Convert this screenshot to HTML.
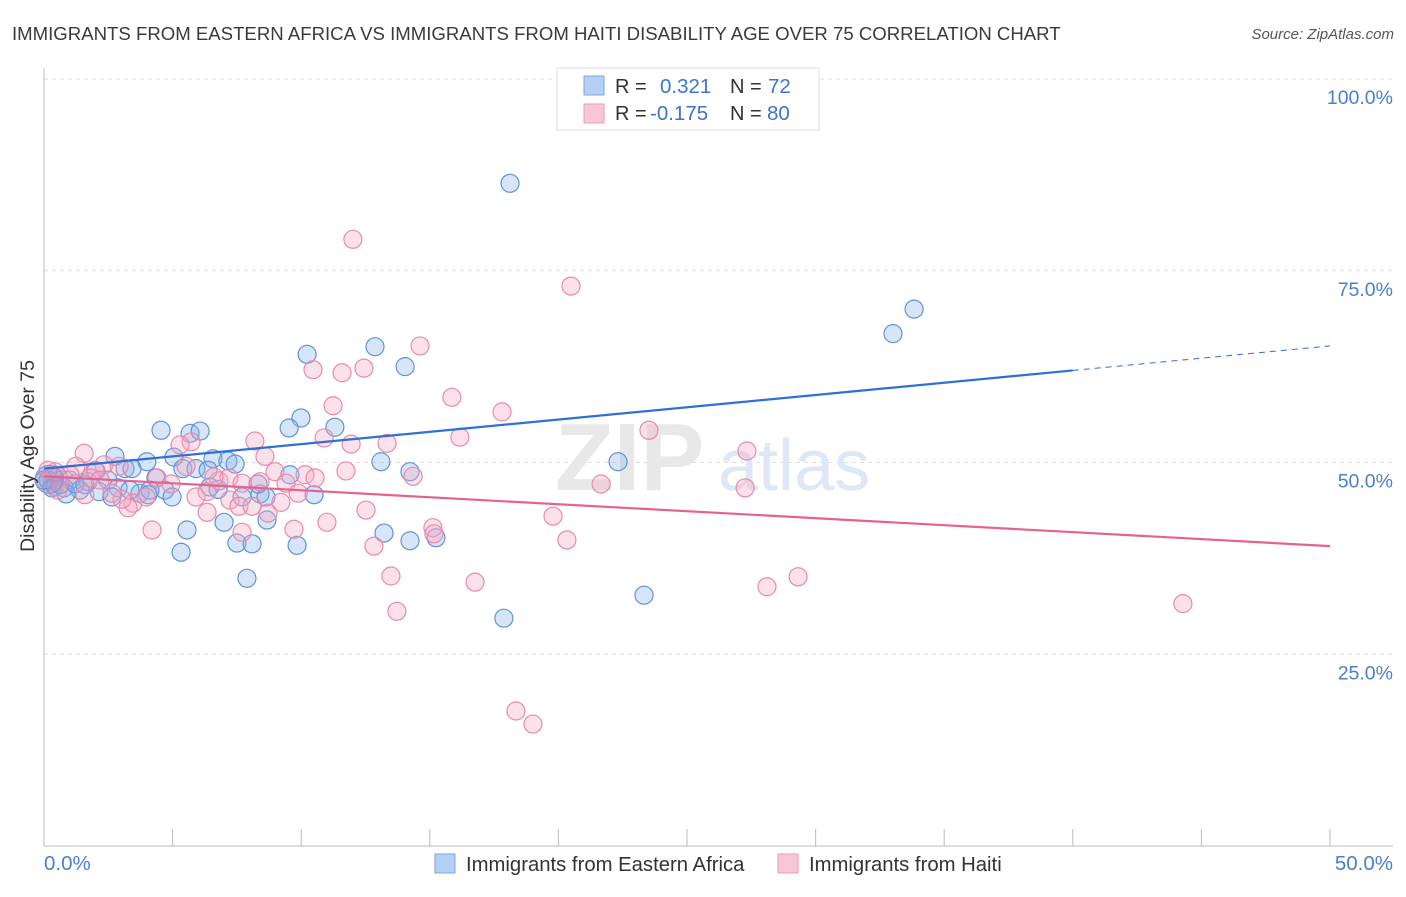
<!DOCTYPE html>
<html><head><meta charset="utf-8"><style>
body{margin:0;background:#fff;font-family:"Liberation Sans",sans-serif;}
svg text{font-family:"Liberation Sans",sans-serif;}
</style></head><body>
<svg width="1406" height="892" viewBox="0 0 1406 892">
<text x="12" y="40" font-size="18.6" fill="#3a3a3a">IMMIGRANTS FROM EASTERN AFRICA VS IMMIGRANTS FROM HAITI DISABILITY AGE OVER 75 CORRELATION CHART</text>
<text x="1394" y="39" font-size="15" fill="#555" font-style="italic" text-anchor="end">Source: ZipAtlas.com</text>
<g id="grid"></g>
<text x="555" y="490" font-size="96" fill="#e8e8e8" font-family="Liberation Serif" font-weight="bold">ZIP</text>
<text x="718" y="490" font-size="72" fill="#dde7f5">atlas</text>
<g id="pts"></g>
<g id="lines"></g>
<text transform="translate(34,456) rotate(-90)" font-size="19.5" fill="#333" text-anchor="middle">Disability Age Over 75</text>
<text x="44" y="870" font-size="20.5" fill="#4a7fd0">0.0%</text>
<text x="1393" y="870" font-size="20.5" fill="#4a7fd0" text-anchor="end">50.0%</text>
<g>
<rect x="557" y="68" width="262" height="62" fill="#fff" stroke="#ddd"/>
<rect x="584" y="76" width="20" height="19" fill="#b5d0f3" stroke="#7aa6e3"/>
<rect x="584" y="104" width="20" height="19" fill="#f9c6d5" stroke="#ee9ab5"/>
<text x="615" y="93" font-size="20" fill="#333">R =</text>
<text x="660" y="93" font-size="20.5" fill="#3d74cc">0.321</text>
<text x="730" y="93" font-size="20" fill="#333">N =</text>
<text x="768" y="93" font-size="20.5" fill="#3d74cc">72</text>
<text x="615" y="120" font-size="20" fill="#333">R =</text>
<text x="650" y="120" font-size="20.5" fill="#3d74cc">-0.175</text>
<text x="730" y="120" font-size="20" fill="#333">N =</text>
<text x="767" y="120" font-size="20.5" fill="#3d74cc">80</text>
</g>
<g>
<rect x="435" y="854" width="20" height="19" fill="#b5d0f3" stroke="#7aa6e3"/>
<text x="466" y="871" font-size="20.3" fill="#333">Immigrants from Eastern Africa</text>
<rect x="778" y="854" width="20" height="19" fill="#f9c6d5" stroke="#ee9ab5"/>
<text x="809" y="871" font-size="20.3" fill="#333">Immigrants from Haiti</text>
</g>
</svg>
<script>
const yTicks=[100,75,50,25];
const yTickLabels=["100.0%","75.0%","50.0%","25.0%"];
const xTicks=[0,5,10,15,20,25,30,35,40,45,50];
const blueX=[18.12,33.83,33.01,10.23,12.87,14.04,9.99,11.31,4.55,5.68,6.07,9.53,22.32,13.10,14.23,2.76,4.00,5.05,6.57,7.15,7.43,5.40,5.91,3.15,3.42,2.02,0.54,1.01,1.71,2.49,4.35,0.43,0.78,1.40,2.14,2.88,3.73,4.70,4.98,6.45,6.77,7.70,8.40,8.63,10.50,0.86,2.64,4.04,8.67,7.00,5.56,5.33,7.50,8.09,9.84,13.22,14.23,15.24,7.89,23.33,17.88,0.16,0.31,0.62,1.21,1.59,0.0,3.34,4.12,6.38,9.56,8.32];
const blueY=[86.4,70.0,66.8,64.1,65.1,62.5,55.8,54.6,54.2,53.8,54.1,54.5,50.1,50.1,48.8,50.8,50.1,50.7,50.5,50.2,49.8,49.2,49.2,49.2,49.2,48.9,48.2,47.7,47.5,47.7,48.0,46.9,46.7,46.4,46.2,46.7,46.0,46.4,45.5,46.8,46.5,45.5,45.9,45.5,45.8,45.9,45.5,45.8,42.5,42.2,41.2,38.3,39.5,39.4,39.2,40.8,39.8,40.2,34.9,32.7,29.7,47.7,46.7,47.1,47.2,47.1,47.7,46.4,46.4,49.0,48.4,47.2];
const pinkX=[12.01,20.49,14.62,10.46,11.59,12.44,15.86,11.24,17.81,23.52,16.17,10.89,11.94,13.34,8.20,8.59,27.33,5.72,5.29,1.56,1.24,2.33,2.92,1.98,8.98,11.74,14.35,4.39,4.94,6.80,7.19,7.70,8.40,9.41,10.15,10.54,21.66,27.26,5.91,6.34,7.23,7.58,8.09,8.71,9.21,9.88,3.46,3.27,3.03,3.97,2.64,0.62,1.01,0.43,0.16,12.52,6.34,4.20,7.70,9.72,11.00,15.12,15.16,19.79,20.33,12.83,13.49,16.76,13.72,28.11,29.32,44.28,18.35,19.01,0.54,1.79,5.52,6.61,1.59,2.18];
const pinkY=[79.1,73.0,65.2,62.1,61.7,62.3,58.5,57.4,56.6,54.2,53.3,53.2,52.4,52.5,52.8,50.8,51.5,52.7,52.3,51.2,49.5,49.7,49.5,49.0,48.8,48.9,48.2,48.0,47.2,47.6,48.0,47.3,47.5,47.3,48.4,48.0,47.2,46.7,45.5,46.2,45.1,44.3,44.3,43.4,44.8,46.0,44.7,44.1,45.2,45.5,46.0,47.7,48.4,48.8,49.0,43.8,43.5,41.2,40.9,41.3,42.2,41.5,40.7,43.0,39.9,39.1,35.2,34.4,30.6,33.8,35.1,31.6,17.6,15.9,46.4,48.0,49.5,48.1,45.8,47.7];
const blueTrend=[49.2,65.2];
const pinkTrend=[48.2,39.1];
const NS="http://www.w3.org/2000/svg";
function sx(v){return 44+v*25.72;}
function sy(v){return 846-v*7.67;}
function mk(tag,attrs,parent){const e=document.createElementNS(NS,tag);for(const k in attrs)e.setAttribute(k,attrs[k]);parent.appendChild(e);return e;}
const grid=document.getElementById('grid');
yTicks.forEach((t,i)=>{
 const l=mk('line',{x1:44,x2:1393,y1:sy(t),y2:sy(t),stroke:'#dedede','stroke-dasharray':'4,4'},grid);
 
 
 const tx=mk('text',{x:1393,y:sy(t)+25,'font-size':19.5,fill:'#4a7fd0','text-anchor':'end'},grid);
 tx.textContent=yTickLabels[i];
 
 
});
const ya=mk('line',{x1:44,x2:44,y1:68,y2:846,stroke:'#bbb'},grid);


const xa=mk('line',{x1:44,x2:1393,y1:846,y2:846,stroke:'#bbb'},grid);


xTicks.forEach(t=>{
 const l=mk('line',{x1:sx(t),x2:sx(t),y1:829,y2:846,stroke:'#bbb'},grid);
 
 
});
const pts=document.getElementById('pts');
blueX.forEach((x,i)=>{
 const c=mk('circle',{cx:sx(x),cy:sy(blueY[i]),r:9,fill:'rgba(140,180,235,0.35)',stroke:'#5f93d8','stroke-width':1.2},pts);
 
 
});
pinkX.forEach((x,i)=>{
 const c=mk('circle',{cx:sx(x),cy:sy(pinkY[i]),r:9,fill:'rgba(245,170,195,0.35)',stroke:'#e88aa9','stroke-width':1.2},pts);
 
 
});
const big1=mk('circle',{cx:sx(0.2),cy:sy(47.8),r:14,fill:'rgba(150,140,200,0.4)',stroke:'#8b8fd0'},pts);


const lines=document.getElementById('lines');
const bY=x=>blueTrend[0]+(blueTrend[1]-blueTrend[0])*x/50;
const pY=x=>pinkTrend[0]+(pinkTrend[1]-pinkTrend[0])*x/50;
const bl=mk('line',{x1:sx(0),y1:sy(bY(0)),x2:sx(40),y2:sy(bY(40)),stroke:'#2f6fd6','stroke-width':2.2},lines);


const bd=mk('line',{x1:sx(40),y1:sy(bY(40)),x2:sx(50),y2:sy(bY(50)),stroke:'#2f6fd6','stroke-width':1,'stroke-dasharray':'6,5'},lines);


const pl=mk('line',{x1:sx(0),y1:sy(pY(0)),x2:sx(50),y2:sy(pY(50)),stroke:'#e5628f','stroke-width':2.2},lines);


</script>
</body></html>
